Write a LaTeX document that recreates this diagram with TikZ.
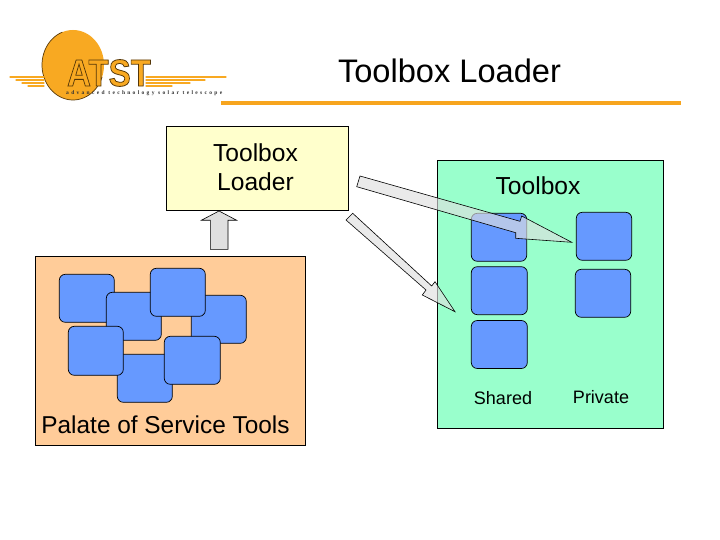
\documentclass[tikz,border=0pt]{standalone}
\usepackage{fontspec}
\setmainfont{Liberation Sans}
\newfontfamily\logosmall[LetterSpace=42]{Liberation Serif}
\definecolor{boxgreen}{HTML}{99FFCC}
\definecolor{boxyellow}{HTML}{FFFFCC}
\definecolor{boxorange}{HTML}{FFCC99}
\definecolor{toolblue}{HTML}{6699FF}
\definecolor{rulecol}{HTML}{F7A51E}
\definecolor{logoor}{HTML}{F8A922}
\definecolor{logodark}{HTML}{5A3A08}
\tikzset{
  panel/.style={draw=black,line width=0.7pt},
  toolbox/.style={draw=black,line width=0.7pt,fill=toolblue,rounded corners=6pt},
  bigarrow/.style={draw=black,line width=0.6pt,fill=gray!25,fill opacity=0.65,line join=miter},
  label/.style={inner sep=0pt,text=black},
  streak/.style={draw=logoor,line width=1.1pt,line cap=round},
  atst/.style={inner sep=0pt,font=\fontsize{38}{38}\selectfont\bfseries}
}
\newcommand{\toolat}[3]{\path[toolbox] (#1,#2) rectangle (#3);}
\newcommand{\outlined}[1]{\special{pdf:code q 2 Tr 0.8 w 0.33 0.21 0.03 RG}#1\special{pdf:code Q}}
\begin{document}
\begin{tikzpicture}[x=1pt,y=-1pt]
\useasboundingbox[fill=white] (0,0) rectangle (720,540);
% logo
\fill[logoor] (73,65) ellipse [x radius=31,y radius=35];
\draw[logodark,line width=0.7pt] (73,65) ++(250:31 and 35) arc [start angle=250,end angle=20,x radius=31,y radius=35,delta angle=-230];
\foreach \yy/\xa/\xb in {77/10/44,80/16/44,83/22/44,86/28/44,77/146/226,80/146/205,83/146/190,86/146/172}{
  \draw[streak] (\xa,\yy) -- (\xb,\yy);
}
\node[atst,text=logoor,xscale=0.87] (logotext) at (109,73) {\outlined{ATST}};
\node[inner sep=0pt,font=\fontsize{5.5}{6}\logosmall\bfseries,text=black!80,anchor=west] (logosub) at (66,93.5) {advanced technology solar telescope};
% title
\node[label,font=\fontsize{32.6}{33}\selectfont] (title) at (449.5,71) {Toolbox Loader};
\draw[draw=rulecol,line width=4pt] (221,103.5) coordinate (ra) -- (681,103.5) coordinate (rb);
% loader
\node[panel,fill=boxyellow,minimum width=182pt,minimum height=84pt,inner sep=0pt,anchor=north west] (loader) at (166,126) {};
\node[label,font=\fontsize{24.6}{28.5}\selectfont,align=center] (loadertext) at (255.5,167) {Toolbox\\Loader};
% palate
\path[panel,fill=boxorange] (35.3,256.3) rectangle (305.7,445.7);
\node[label,font=\fontsize{24.4}{24}\selectfont] (palate) at (165.5,424.5) {Palate of Service Tools};
\toolat{59.3}{274.3}{114.3,322.3}
\toolat{106.3}{292.3}{161.3,340.3}
\toolat{191.3}{295.3}{246.3,343.3}
\toolat{150.3}{268.3}{205.3,316.3}
\toolat{117.3}{354.3}{172.3,402.3}
\toolat{68.3}{326.3}{123.3,375.3}
\toolat{164.3}{336.3}{220.3,384.3}
% toolbox
\path[panel,fill=boxgreen] (437.3,160.3) rectangle (663,428);
\node[label,font=\fontsize{24.6}{24}\selectfont] (tbl) at (538,186) {Toolbox};
\node[label,font=\fontsize{18}{18}\selectfont] (shared) at (503,398) {Shared};
\node[label,font=\fontsize{18}{18}\selectfont] (private) at (601,397) {Private};
\toolat{471.3}{213.3}{526.7,261.3}
\toolat{471.3}{266.7}{527.3,314.7}
\toolat{471.3}{320.5}{527.3,368.5}
\toolat{576.3}{212.3}{631.7,260.3}
\toolat{575.3}{269.3}{630.7,317.3}
% arrows
\path[bigarrow] (360,176) -- (520,221.3) -- (521.7,216) -- (571.7,242.3) -- (515.7,238.3) -- (515.7,232.7) -- (356.7,186.7) -- cycle;
\path[bigarrow] (352.7,213.3) -- (431.7,286) -- (435,281.7) -- (455,311.7) -- (422.3,295) -- (426,290) -- (346,220) -- cycle;
\path[draw=black,line width=0.6pt,fill=gray!25] (219,211) -- (236.7,220.3) -- (228,220.3) -- (228,249.3) -- (210.3,249.3) -- (210.3,220.3) -- (201.3,220.3) -- cycle;
\end{tikzpicture}
\end{document}
